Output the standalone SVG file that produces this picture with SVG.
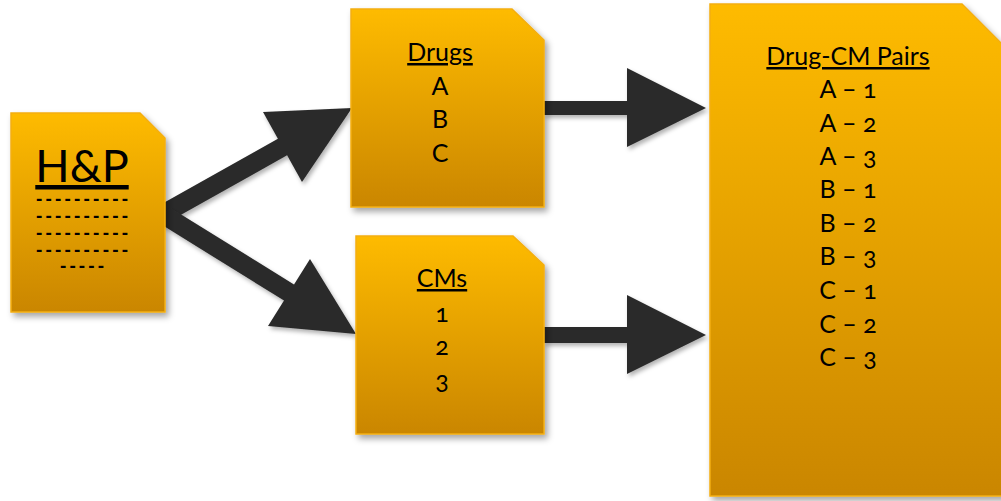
<svg xmlns="http://www.w3.org/2000/svg" width="1001" height="501" viewBox="0 0 1001 501">
<style>
.doc{fill:url(#g);stroke:#F4AE10;stroke-width:1.5;filter:url(#sh)}
.t{font-family:Lato,"Liberation Sans",sans-serif;fill:#000;text-anchor:middle;font-variant-numeric:oldstyle-nums;font-feature-settings:"onum" 1}
.h{font-size:25px;text-decoration:underline}
.i{font-size:25px}
.d{font-family:"Liberation Sans",sans-serif;font-size:19px;font-weight:bold;fill:#000}
.arr{fill:#2B2B2B;filter:url(#sh2)}
</style>
<defs>
<linearGradient id="g" x1="0" y1="0" x2="0" y2="1">
<stop offset="0" stop-color="#FEBB00"/>
<stop offset="1" stop-color="#CA8600"/>
</linearGradient>
<filter id="sh" x="-10%" y="-10%" width="130%" height="130%">
<feDropShadow dx="3" dy="4" stdDeviation="3" flood-color="#000" flood-opacity="0.35"/>
</filter>
<filter id="sh2" x="-10%" y="-10%" width="130%" height="130%">
<feDropShadow dx="2" dy="3" stdDeviation="2" flood-color="#000" flood-opacity="0.3"/>
</filter>
</defs>
<rect width="1001" height="501" fill="#fff"/>
<g id="connectors">
<polygon class="arr" points="159.4,205.2 277.9,138.7 263,112 352,108 302,182 287.1,155.3 168.6,221.8"/>
<polygon class="arr" points="169,206.9 294,284.4 310,259 356,334 268,326 284,300.6 159,223.1"/>
<polygon class="arr" points="544,101 627,101 627,68 706,108 627,147 627,115 544,115"/>
<polygon class="arr" points="544,327 627,327 627,295 706,335 627,374 627,343 544,343"/>
</g>
<g id="hp">
<path class="doc" d="M11,113 H140 L165,138 V312 H11 Z"/>
<text class="t" x="82" y="182" style="font-size:45px;text-decoration:underline">H&amp;P</text>
<text class="d" x="36" y="205" textLength="92" lengthAdjust="spacing">----------</text>
<text class="d" x="36" y="222" textLength="92" lengthAdjust="spacing">----------</text>
<text class="d" x="36" y="239" textLength="92" lengthAdjust="spacing">----------</text>
<text class="d" x="36" y="256" textLength="92" lengthAdjust="spacing">----------</text>
<text class="d" x="60" y="272" textLength="44" lengthAdjust="spacing">-----</text>
</g>
<g id="drugs">
<path class="doc" d="M351,9 H512 L544,40 V207 H351 Z"/>
<text class="t h" x="440" y="61">Drugs</text>
<text class="t i" x="440" y="95">A</text>
<text class="t i" x="440" y="128">B</text>
<text class="t i" x="440" y="162">C</text>
</g>
<g id="cms">
<path class="doc" d="M356,236 H513 L544,265 V434 H356 Z"/>
<text class="t h" x="442" y="287">CMs</text>
<text class="t i" x="442" y="322">1</text>
<text class="t i" x="442" y="355">2</text>
<text class="t i" x="442" y="389">3</text>
</g>
<g id="pairs">
<path class="doc" d="M710,4 H962 L1006,48 V496 H710 Z"/>
<text class="t h" x="848" y="65">Drug-CM Pairs</text>
<text class="t i" x="848" y="98">A – 1</text>
<text class="t i" x="848" y="132">A – 2</text>
<text class="t i" x="848" y="165">A – 3</text>
<text class="t i" x="848" y="198">B – 1</text>
<text class="t i" x="848" y="232">B – 2</text>
<text class="t i" x="848" y="265">B – 3</text>
<text class="t i" x="848" y="299">C – 1</text>
<text class="t i" x="848" y="333">C – 2</text>
<text class="t i" x="848" y="366">C – 3</text>
</g>
</svg>
